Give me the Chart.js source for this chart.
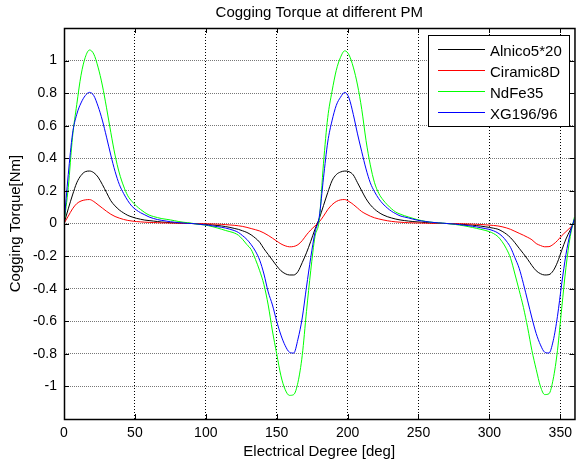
<!DOCTYPE html>
<html>
<head>
<meta charset="utf-8">
<script src="https://cdn.jsdelivr.net/npm/chart.js@4.4.0/dist/chart.umd.min.js"></script>
<style>
html,body{margin:0;padding:0;background:#fff;}
#wrap{width:578px;height:464px;position:relative;}
</style>
</head>
<body>
<div id="wrap"><canvas id="c" width="578" height="464"></canvas></div>
<script>
// ---------------- data ----------------
const degrees = [0,3,6,9,12,15,18,21,24,27,30,33,36,39,42,45,48,51,54,57,60,63,66,69,72,75,78,81,84,87,
90,93,96,99,102,105,108,111,114,117,120,123,126,129,132,135,138,141,144,147,150,153,156,159,162,165,168,171,174,177,
180,183,186,189,192,195,198,201,204,207,210,213,216,219,222,225,228,231,234,237,240,243,246,249,252,255,258,261,264,267,
270,273,276,279,282,285,288,291,294,297,300,303,306,309,312,315,318,321,324,327,330,333,336,339,342,345,348,351,354,357,360];

const alnico = [0.0,0.09,0.175,0.25,0.295,0.318,0.322,0.312,0.285,0.24,0.19,0.14,0.108,0.083,0.065,0.05,0.04,0.032,0.026,0.021,0.018,0.015,0.012,0.009,0.007,0.005,0.004,0.003,0.002,0.001,
0.0,-0.001,-0.003,-0.005,-0.007,-0.009,-0.012,-0.015,-0.019,-0.024,-0.03,-0.036,-0.045,-0.055,-0.07,-0.09,-0.115,-0.155,-0.19,-0.225,-0.26,-0.29,-0.308,-0.316,-0.316,-0.295,-0.24,-0.18,-0.11,-0.035,
0.03,0.11,0.19,0.262,0.3,0.316,0.322,0.318,0.298,0.25,0.2,0.152,0.115,0.088,0.068,0.053,0.042,0.034,0.027,0.022,0.018,0.015,0.012,0.01,0.008,0.006,0.004,0.003,0.002,0.001,
0.0,-0.001,-0.002,-0.004,-0.006,-0.008,-0.01,-0.013,-0.016,-0.02,-0.024,-0.029,-0.035,-0.048,-0.065,-0.088,-0.118,-0.152,-0.185,-0.22,-0.258,-0.29,-0.308,-0.316,-0.314,-0.29,-0.238,-0.165,-0.095,-0.04,0.02];

const ceramic = [0.0,0.045,0.09,0.122,0.138,0.145,0.147,0.135,0.115,0.095,0.075,0.057,0.043,0.033,0.025,0.019,0.015,0.012,0.01,0.008,0.007,0.006,0.005,0.004,0.004,0.003,0.003,0.002,0.002,0.001,
0.0,-0.001,-0.001,-0.002,-0.002,-0.003,-0.004,-0.005,-0.007,-0.009,-0.011,-0.014,-0.018,-0.024,-0.031,-0.038,-0.046,-0.058,-0.073,-0.09,-0.108,-0.125,-0.137,-0.143,-0.141,-0.13,-0.105,-0.07,-0.04,-0.015,
0.01,0.045,0.085,0.115,0.135,0.145,0.147,0.135,0.117,0.095,0.073,0.058,0.045,0.035,0.028,0.022,0.017,0.013,0.01,0.008,0.006,0.005,0.004,0.003,0.003,0.002,0.002,0.001,0.001,0.0,
0.0,-0.001,-0.001,-0.002,-0.002,-0.003,-0.004,-0.005,-0.006,-0.008,-0.01,-0.012,-0.015,-0.02,-0.027,-0.036,-0.048,-0.06,-0.072,-0.085,-0.1,-0.123,-0.135,-0.143,-0.142,-0.128,-0.105,-0.075,-0.05,-0.025,0.0];

const ndfe = [0.0,0.22,0.53,0.73,0.91,1.02,1.065,1.04,0.96,0.85,0.71,0.56,0.42,0.31,0.23,0.17,0.135,0.108,0.086,0.067,0.052,0.043,0.036,0.03,0.026,0.022,0.017,0.012,0.008,0.005,
0.002,-0.003,-0.006,-0.009,-0.014,-0.02,-0.027,-0.035,-0.043,-0.05,-0.058,-0.072,-0.098,-0.13,-0.16,-0.22,-0.29,-0.375,-0.5,-0.66,-0.8,-0.935,-1.02,-1.055,-1.05,-0.975,-0.81,-0.54,-0.29,-0.08,
0.02,0.37,0.65,0.81,0.94,1.02,1.06,1.035,0.96,0.85,0.7,0.51,0.36,0.25,0.185,0.145,0.115,0.09,0.07,0.058,0.048,0.04,0.032,0.024,0.018,0.013,0.009,0.006,0.004,0.002,
0.0,-0.003,-0.006,-0.01,-0.014,-0.019,-0.024,-0.03,-0.036,-0.042,-0.05,-0.062,-0.08,-0.112,-0.155,-0.215,-0.31,-0.41,-0.515,-0.64,-0.78,-0.895,-1.0,-1.05,-1.045,-0.955,-0.78,-0.52,-0.27,-0.08,0.04];

const xg = [0.0,0.3,0.55,0.67,0.74,0.785,0.805,0.785,0.72,0.635,0.53,0.42,0.32,0.24,0.185,0.14,0.105,0.083,0.066,0.053,0.04,0.031,0.024,0.019,0.015,0.011,0.008,0.005,0.003,0.001,
0.0,-0.002,-0.005,-0.008,-0.011,-0.015,-0.019,-0.023,-0.028,-0.035,-0.043,-0.055,-0.075,-0.098,-0.13,-0.17,-0.225,-0.31,-0.42,-0.5,-0.6,-0.685,-0.75,-0.79,-0.795,-0.71,-0.58,-0.39,-0.21,-0.055,
0.04,0.28,0.5,0.63,0.725,0.775,0.805,0.77,0.67,0.55,0.44,0.335,0.25,0.195,0.152,0.12,0.095,0.075,0.06,0.047,0.04,0.034,0.027,0.021,0.016,0.012,0.009,0.006,0.004,0.002,
0.0,-0.002,-0.004,-0.007,-0.01,-0.013,-0.017,-0.021,-0.026,-0.031,-0.036,-0.045,-0.058,-0.078,-0.108,-0.148,-0.21,-0.275,-0.37,-0.475,-0.58,-0.675,-0.745,-0.79,-0.795,-0.72,-0.57,-0.37,-0.19,-0.06,0.03];

const seriesNames = ['Alnico5*20', 'Ciramic8D', 'NdFe35', 'XG196/96'];
const seriesColors = ['#000000', '#ff0000', '#00ff00', '#0000ff'];
const xTicks = [0, 50, 100, 150, 200, 250, 300, 350];
const yTicks = [-1, -0.8, -0.6, -0.4, -0.2, 0, 0.2, 0.4, 0.6, 0.8, 1];
const chartTitle = 'Cogging Torque at different PM';
const xTitle = 'Electrical Degree [deg]';
const yTitle = 'Cogging Torque[Nm]';

// ---------------- chart ----------------
const FONT = '"Liberation Sans", Arial, Helvetica, sans-serif';
const seriesValues = [alnico, ceramic, ndfe, xg];

const framePlugin = {
  id: 'matlabFrame',
  beforeDraw(chart) {
    const ctx = chart.ctx;
    ctx.save();
    ctx.fillStyle = '#fff';
    ctx.fillRect(0, 0, chart.width, chart.height);
    ctx.restore();
  },
  afterDatasetsDraw(chart) {
    const {ctx, chartArea: {left, right, top, bottom}, scales: {x, y}} = chart;
    ctx.save();
    ctx.setLineDash([]);
    ctx.strokeStyle = '#000';
    ctx.lineWidth = 1;
    const tl = 5;
    ctx.beginPath();
    xTicks.forEach(v => {
      const px = Math.round(x.getPixelForValue(v)) + 0.5;
      ctx.moveTo(px, bottom); ctx.lineTo(px, bottom - tl);
      ctx.moveTo(px, top); ctx.lineTo(px, top + tl);
    });
    yTicks.forEach(v => {
      const py = Math.round(y.getPixelForValue(v)) + 0.5;
      ctx.moveTo(left, py); ctx.lineTo(left + tl, py);
      ctx.moveTo(right, py); ctx.lineTo(right - tl, py);
    });
    ctx.stroke();
    ctx.lineWidth = 1.5;
    ctx.strokeRect(left + 0.5, top + 0.5, right - left, bottom - top);
    ctx.restore();
  },
  afterDraw(chart) {
    const {ctx, chartArea: {left, right}} = chart;
    ctx.save();
    ctx.fillStyle = '#000';
    ctx.font = '15px ' + FONT;
    ctx.textAlign = 'center';
    ctx.textBaseline = 'middle';
    ctx.fillText(chartTitle, (left + right) / 2, 13);
    // legend box
    const bx = 428.5, by = 35.5, bw = 141, bh = 91;
    ctx.fillStyle = '#fff';
    ctx.fillRect(bx, by, bw, bh);
    ctx.strokeStyle = '#000';
    ctx.lineWidth = 1;
    ctx.strokeRect(bx, by, bw, bh);
    ctx.textAlign = 'left';
    seriesNames.forEach((name, i) => {
      const ly = Math.round(by + 13 + i * 21.3);
      ctx.fillStyle = seriesColors[i];
      ctx.fillRect(438, ly, 47, 1);
      ctx.fillStyle = '#000';
      ctx.fillText(name, 490, ly + 3);
    });
    ctx.restore();
  }
};

new Chart(document.getElementById('c').getContext('2d'), {
  type: 'line',
  data: {
    datasets: seriesValues.map((vals, i) => ({
      label: seriesNames[i],
      data: degrees.map((d, j) => ({x: d, y: vals[j]})),
      borderColor: seriesColors[i],
      backgroundColor: seriesColors[i],
      borderWidth: 1,
      pointRadius: 0,
      fill: false,
      cubicInterpolationMode: 'monotone',
      order: seriesValues.length - 1 - i
    }))
  },
  options: {
    responsive: false,
    animation: false,
    devicePixelRatio: 1,
    layout: {padding: {top: 28, right: 1, left: 0, bottom: 0}},
    plugins: {legend: {display: false}, tooltip: {enabled: false}, title: {display: false}},
    scales: {
      x: {
        type: 'linear', min: 0, max: 360,
        afterBuildTicks: s => { s.ticks = xTicks.map(v => ({value: v})); },
        afterFit: s => { s.height = 45; },
        grid: {color: '#000', lineWidth: 1, drawTicks: false},
        border: {display: false, dash: [1, 2]},
        ticks: {color: '#000', font: {family: FONT, size: 14}, padding: 6, maxRotation: 0, autoSkip: false,
                callback: v => String(v)},
        title: {display: true, text: xTitle, color: '#000', font: {family: FONT, size: 15}, padding: {top: 0, bottom: 3}}
      },
      y: {
        type: 'linear', min: -1.2, max: 1.2,
        afterBuildTicks: s => { s.ticks = yTicks.map(v => ({value: v})); },
        afterFit: s => { s.width = 64; },
        grid: {color: '#777', lineWidth: 1, drawTicks: false},
        border: {display: false, dash: [1, 1]},
        ticks: {color: '#000', font: {family: FONT, size: 14}, padding: 7, autoSkip: false,
                callback: v => { const r = Math.round(v * 10) / 10; return r === 0 ? '0' : String(r); }},
        title: {display: true, text: yTitle, color: '#000', font: {family: FONT, size: 15}, padding: {top: 7, bottom: 0}}
      }
    }
  },
  plugins: [framePlugin]
});
</script>
</body>
</html>
